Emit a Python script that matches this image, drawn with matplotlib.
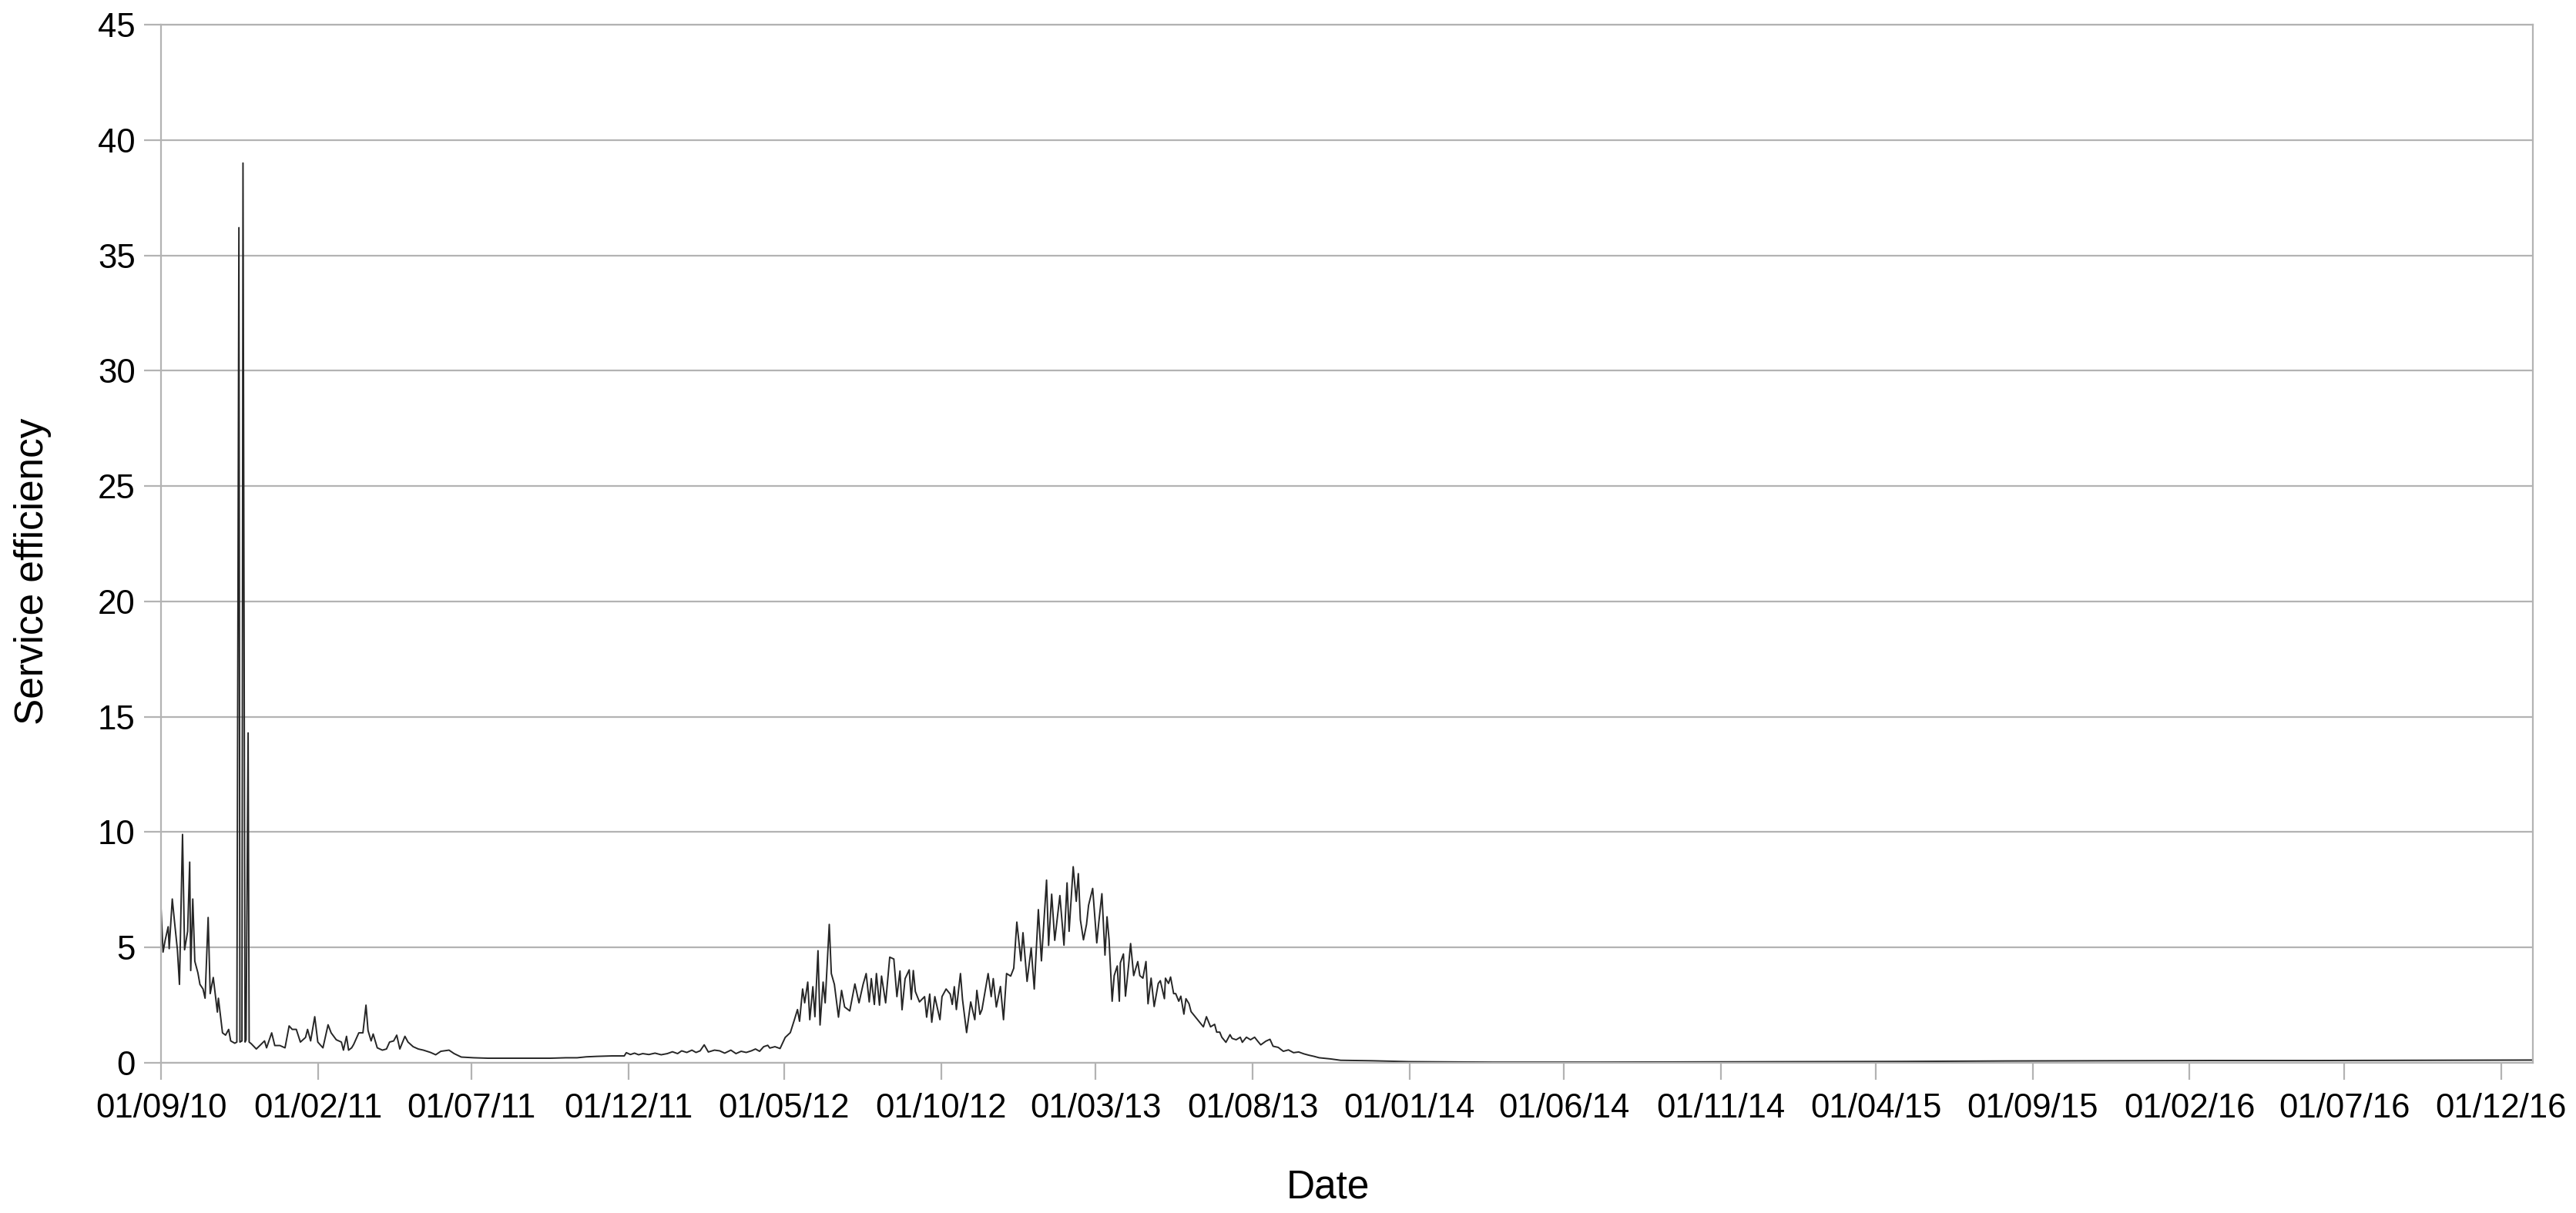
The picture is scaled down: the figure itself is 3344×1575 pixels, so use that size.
import numpy as np
import matplotlib
matplotlib.use("Agg")
import matplotlib.pyplot as plt
from datetime import datetime

plt.rcParams['font.family'] = ['Liberation Sans', 'DejaVu Sans']

start_date = np.datetime64('2010-09-01')

# days since 01/09/10 and the service efficiency
days = [
    0, 2, 4, 7, 8, 11, 13, 16, 18, 21, 23, 26, 28, 29, 31, 33, 36, 38, 41, 43,
    46, 48, 51, 55, 56, 60, 63, 66, 68, 72, 74, 76, 77, 79, 80, 82, 83, 85, 86, 88,
    93, 101, 103, 108, 111, 116, 121, 125, 128, 132, 136, 141, 143, 146, 150, 153, 158, 163, 166, 171,
    176, 178, 181, 183, 186, 188, 193, 197, 200, 202, 205, 207, 211, 216, 220, 223, 227, 230, 233, 238,
    241, 246, 251, 256, 263, 268, 273, 281, 286, 293, 305, 319, 340, 369,
    380, 395, 406, 415, 425, 440, 452, 454, 458, 462, 466, 470, 476, 482, 488, 494, 499, 504, 508, 513,
    518, 522, 526, 530, 534, 540, 545, 550, 556, 561, 566, 571, 576, 580, 584, 588, 592, 594, 599, 604,
    609, 614, 618, 621, 623, 626, 628, 631, 633, 636, 638, 641, 643, 646, 648, 652, 654, 657, 661, 664,
    667, 672, 677, 681, 685, 688, 691, 693, 696, 698, 701, 703, 707, 711, 715, 718, 721, 723, 726, 730,
    732, 734, 736, 740, 745, 747, 750, 752, 755, 760, 762, 766, 770, 772, 774, 776, 780, 782, 786, 790,
    794, 796, 799, 801, 804, 807, 810, 812, 815, 819, 822, 825, 829, 832, 835, 839, 841, 845, 849, 852,
    856, 859, 864, 866, 869, 872, 877,
    881, 884, 886, 890, 893, 895, 897, 900, 903, 905, 909, 913, 915, 918, 921, 923, 925, 928, 930, 933,
    935, 936, 939, 941, 944, 946, 949, 953, 955, 958, 961, 963, 966, 969, 973, 975, 979, 980, 983, 985,
    988, 990, 993, 995, 998, 1000, 1003, 1005, 1009, 1013, 1017, 1020, 1024, 1028, 1030, 1033, 1035, 1039, 1043, 1045,
    1049, 1053, 1055, 1059, 1063, 1067, 1070, 1073, 1078, 1082, 1085, 1090, 1095, 1100, 1105, 1110, 1115, 1120, 1125, 1130,
    1141, 1151, 1181, 1200, 1218, 1260, 1300, 1400, 1500, 1600, 1700, 1800, 1900, 2000, 2100, 2200, 2280, 2313,
]
efficiency = [
    6.7, 4.8, 5.3, 5.9, 4.95, 7.1, 6.2, 4.9, 3.4, 9.9, 4.9, 5.7, 8.7, 4.0, 7.1, 4.4, 3.9, 3.4, 3.2, 2.8,
    6.3, 3.0, 3.7, 2.2, 2.8, 1.3, 1.2, 1.45, 0.95, 0.85, 0.9, 36.2, 0.9, 0.95, 39.0, 0.9, 1.0, 14.3, 0.9, 0.83,
    0.6, 0.95, 0.65, 1.3, 0.75, 0.75, 0.65, 1.6, 1.45, 1.45, 0.9, 1.1, 1.45, 0.95, 2.0, 0.9, 0.65, 1.65, 1.3, 1.0,
    0.9, 0.55, 1.15, 0.55, 0.65, 0.8, 1.3, 1.3, 2.5, 1.4, 0.95, 1.25, 0.65, 0.55, 0.6, 0.9, 0.95, 1.2, 0.6, 1.15,
    0.9, 0.7, 0.6, 0.55, 0.45, 0.35, 0.5, 0.55, 0.4, 0.25, 0.22, 0.2, 0.2, 0.2,
    0.2, 0.22, 0.22, 0.26, 0.28, 0.3, 0.3, 0.44, 0.36, 0.42, 0.35, 0.4, 0.36, 0.42, 0.35, 0.4, 0.48, 0.4, 0.52, 0.45,
    0.55, 0.45, 0.52, 0.78, 0.47, 0.55, 0.52, 0.42, 0.55, 0.4, 0.5, 0.45, 0.52, 0.6, 0.5, 0.7, 0.76, 0.64, 0.7, 0.62,
    1.1, 1.31, 1.87, 2.31, 1.8, 3.2, 2.6, 3.5, 1.87, 3.3, 2.0, 4.86, 1.64, 3.5, 2.6, 6.0, 3.87, 3.4, 1.98, 3.14,
    2.42, 2.25, 3.42, 2.6, 3.4, 3.87, 2.64, 3.65, 2.53, 3.87, 2.5, 3.76, 2.6, 4.58, 4.5, 2.87, 3.98, 2.3, 3.65, 4.03,
    2.75, 4.0, 3.09, 2.64, 2.87, 1.98, 2.98, 1.76, 2.87, 1.87, 2.87, 3.2, 2.98, 2.53, 3.3, 2.31, 3.87, 2.75, 1.31, 2.64,
    1.87, 3.14, 2.1, 2.31, 3.09, 3.87, 2.87, 3.65, 2.42, 3.31, 1.87, 3.87, 3.76, 4.1, 6.1, 4.42, 5.64, 3.53, 4.98, 3.2,
    6.64, 4.42, 7.92, 5.09, 7.31, 5.31, 7.25,
    5.1, 7.8, 5.7, 8.5, 7.0, 8.2, 6.2, 5.33, 6.0, 6.83, 7.56, 5.2, 6.1, 7.33, 4.67, 6.33, 5.33, 2.67, 3.78, 4.2,
    2.67, 4.33, 4.72, 2.89, 4.2, 5.17, 3.78, 4.39, 3.78, 3.67, 4.39, 2.56, 3.67, 2.44, 3.44, 3.56, 2.78, 3.67, 3.44, 3.72,
    3.0, 3.0, 2.67, 2.89, 2.11, 2.78, 2.56, 2.22, 2.0, 1.78, 1.56, 2.0, 1.56, 1.67, 1.33, 1.33, 1.11, 0.89, 1.22, 1.06,
    1.0, 1.11, 0.89, 1.11, 1.0, 1.11, 0.94, 0.78, 0.94, 1.02, 0.72, 0.67, 0.5, 0.56, 0.44, 0.47, 0.39, 0.33, 0.28, 0.22,
    0.17, 0.11, 0.09, 0.07, 0.05, 0.04, 0.03, 0.03, 0.04, 0.05, 0.06, 0.08, 0.09, 0.1, 0.1, 0.11, 0.12, 0.12,
]

tick_labels = ['01/09/10', '01/02/11', '01/07/11', '01/12/11', '01/05/12', '01/10/12',
               '01/03/13', '01/08/13', '01/01/14', '01/06/14', '01/11/14', '01/04/15',
               '01/09/15', '01/02/16', '01/07/16', '01/12/16']
y_ticks = [0, 5, 10, 15, 20, 25, 30, 35, 40, 45]

dates = start_date + np.array(days, dtype='timedelta64[D]')
tick_dates = [datetime.strptime(t, '%d/%m/%y') for t in tick_labels]

grey = '#b3b3b3'

fig = plt.figure(figsize=(33.44, 15.75), dpi=100)
ax = fig.add_axes([0.0625, 0.1238, 0.9207, 0.8559])

ax.plot(dates, efficiency, color='#262626', lw=1.4)

ax.set_xlim(datetime(2010, 9, 1), datetime(2017, 1, 1))
ax.set_ylim(0, 45)
ax.set_yticks(y_ticks)
ax.set_xticks(tick_dates)
ax.set_xticklabels(tick_labels)

ax.grid(axis='y', color=grey, lw=1.6)
ax.set_axisbelow(True)
for s in ax.spines.values():
    s.set_color(grey)
    s.set_linewidth(1.6)
ax.tick_params(axis='both', colors=grey, labelcolor='black', labelsize=31.5,
               length=16, width=1.6, direction='out')
ax.tick_params(axis='y', pad=8)
ax.tick_params(axis='x', pad=12)

fig.text(0.5155, 0.021, 'Date', fontsize=37, ha='center', va='center')
fig.text(0.0128, 0.529, 'Service efficiency', fontsize=37, ha='center', va='center',
         rotation=90)

fig.savefig('out.png', dpi=100)
